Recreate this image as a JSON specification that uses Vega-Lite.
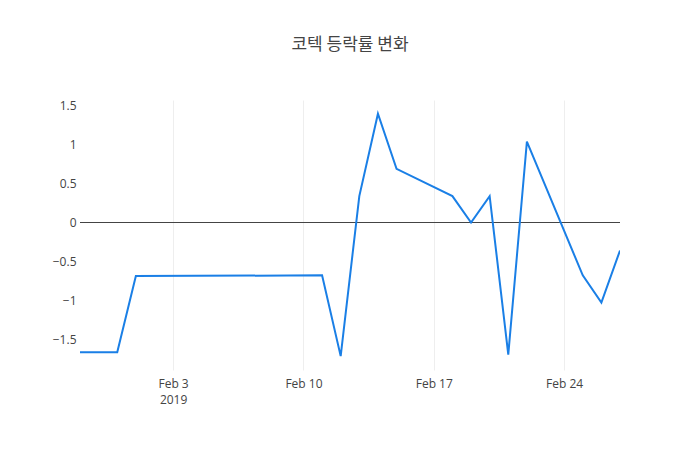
{
  "$schema": "https://vega.github.io/schema/vega-lite/v6.json",
  "width": 540,
  "height": 270,
  "autosize": {"type": "none"},
  "padding": {"left": 80, "top": 100, "right": 80, "bottom": 80},
  "background": "white",
  "config": {
    "font": "Open Sans",
    "view": {"stroke": null},
    "axis": {"labelColor": "#444", "labelFontSize": 12, "domain": false, "ticks": false, "gridColor": "#eee", "gridWidth": 1}
  },
  "title": {
    "text": "코텍 등락률 변화",
    "font": "Noto Sans CJK KR",
    "fontSize": 17,
    "fontWeight": "normal",
    "color": "#444",
    "anchor": "middle",
    "offset": 46
  },
  "data": {
    "values": [
      {"date": "2019-01-29", "rate": -1.67},
      {"date": "2019-01-31", "rate": -1.67},
      {"date": "2019-02-01", "rate": -0.69},
      {"date": "2019-02-11", "rate": -0.68},
      {"date": "2019-02-12", "rate": -1.72},
      {"date": "2019-02-13", "rate": 0.34},
      {"date": "2019-02-14", "rate": 1.40},
      {"date": "2019-02-15", "rate": 0.69},
      {"date": "2019-02-18", "rate": 0.34},
      {"date": "2019-02-19", "rate": 0.0},
      {"date": "2019-02-20", "rate": 0.34},
      {"date": "2019-02-21", "rate": -1.70},
      {"date": "2019-02-22", "rate": 1.04},
      {"date": "2019-02-25", "rate": -0.68},
      {"date": "2019-02-26", "rate": -1.03},
      {"date": "2019-02-27", "rate": -0.36}
    ]
  },
  "layer": [
    {
      "mark": {"type": "rule", "color": "#444", "strokeWidth": 1},
      "encoding": {"y": {"datum": 0, "type": "quantitative"}}
    },
    {
      "mark": {"type": "line", "color": "#1a7fe6", "strokeWidth": 2, "clip": true},
      "encoding": {
        "x": {
          "field": "date",
          "type": "temporal",
          "title": null,
          "scale": {
            "type": "utc",
            "domain": [
              {"year": 2019, "month": 1, "date": 29, "utc": true},
              {"year": 2019, "month": 2, "date": 27, "utc": true}
            ],
            "nice": false
          },
          "axis": {
            "values": [
              {"year": 2019, "month": 2, "date": 3, "utc": true},
              {"year": 2019, "month": 2, "date": 10, "utc": true},
              {"year": 2019, "month": 2, "date": 17, "utc": true},
              {"year": 2019, "month": 2, "date": 24, "utc": true}
            ],
            "labelExpr": "utcdate(datum.value) == 3 ? [utcFormat(datum.value, '%b %-d'), '2019'] : utcFormat(datum.value, '%b %-d')",
            "labelPadding": 8,
            "labelLineHeight": 16
          }
        },
        "y": {
          "field": "rate",
          "type": "quantitative",
          "title": null,
          "scale": {"domain": [-1.8983, 1.5767], "nice": false, "zero": false},
          "axis": {"values": [-1.5, -1, -0.5, 0, 0.5, 1, 1.5], "format": "~g", "labelPadding": 4, "gridColor": "#e6e6e6"}
        }
      }
    }
  ]
}
